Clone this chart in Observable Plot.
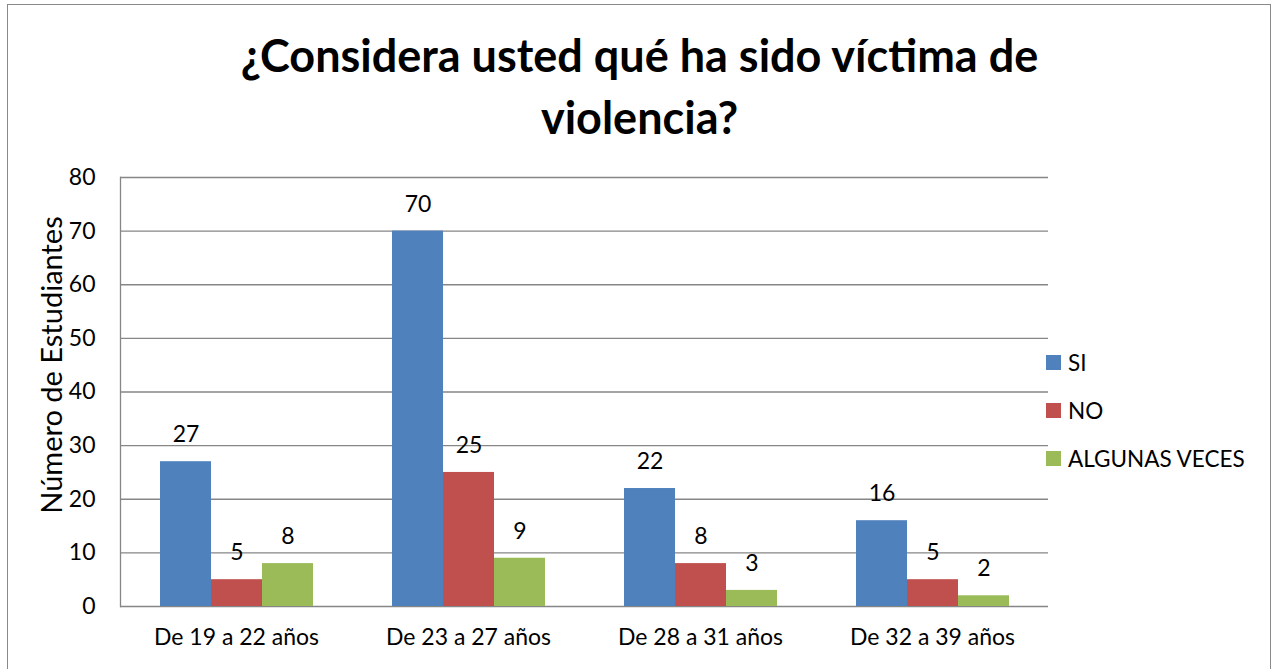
<!DOCTYPE html>
<html>
<head>
<meta charset="utf-8">
<script src="https://cdn.jsdelivr.net/npm/d3@7"></script>
<script src="https://cdn.jsdelivr.net/npm/@observablehq/plot@0.6"></script>
<style>
  html, body { margin: 0; padding: 0; width: 1273px; height: 669px; overflow: hidden; background: #fff; font-family: Lato, "Open Sans", sans-serif; }
  #frame { position: absolute; left: 7px; top: 4px; width: 1264px; height: 700px; border: 1.5px solid #898989; box-sizing: border-box; }
  #title { position: absolute; left: 7px; width: 1265px; top: 24px; text-align: center; font-weight: bold; font-size: 45px; line-height: 62px; color: #000; }
  #ylabel { position: absolute; left: 50px; top: 365px; transform: translate(-50%, -50%) rotate(-90deg); font-size: 29px; white-space: nowrap; color: #000; }
  #chart { position: absolute; left: 0; top: 150px; }
  #legend { position: absolute; left: 1046px; top: 349px; font-size: 22.5px; color: #000; }
  .item { position: absolute; left: 0; white-space: nowrap; display: flex; align-items: center; }
  .sw { width: 15px; height: 15px; margin-right: 7px; }
</style>
</head>
<body>
<div id="frame"></div>
<div id="title">¿Considera usted qué ha sido víctima de<br>violencia?</div>
<div id="ylabel">Número de Estudiantes</div>
<div id="chart"></div>
<div id="legend"></div>
<script>
const categories = ["De 19 a 22 años", "De 23 a 27 años", "De 28 a 31 años", "De 32 a 39 años"];
const seriesNames = ["SI", "NO", "ALGUNAS VECES"];
const siValues = [27, 70, 22, 16];
const noValues = [5, 25, 8, 5];
const algunasValues = [8, 9, 3, 2];
const yTicks = [0, 10, 20, 30, 40, 50, 60, 70, 80];
const colors = ["#4F81BD", "#C0504D", "#9BBB59"];

const seriesValues = [siValues, noValues, algunasValues];
const data = [];
categories.forEach((c, i) => {
  seriesNames.forEach((s, j) => {
    data.push({category: c, series: s, value: seriesValues[j][i]});
  });
});

const plot = Plot.plot({
  width: 1273,
  height: 519,
  marginLeft: 120,
  marginRight: 225,
  marginTop: 27,
  marginBottom: 63,
  style: {fontFamily: "Lato, 'Open Sans', sans-serif", fontSize: "23px", color: "#000"},
  fx: {domain: categories, padding: 0, label: null},
  x: {domain: seriesNames, paddingInner: 0, paddingOuter: 0.75, axis: null},
  y: {domain: [0, 80], label: null},
  color: {domain: seriesNames, range: colors},
  marks: [
    Plot.ruleY(yTicks, {stroke: "#868686", strokeWidth: 1.3, strokeOpacity: 1}),
    Plot.barY(data, {fx: "category", x: "series", y: "value", fill: "series"}),
    Plot.text(data, {fx: "category", x: "series", y: "value", text: d => String(d.value), dy: -27, fontSize: 23, fill: "#000"}),
    Plot.frame({anchor: "left", facetAnchor: "left", stroke: "#868686", strokeWidth: 1.3}),
    Plot.axisY(yTicks, {tickSize: 0, tickPadding: 25, fontSize: 23, label: null}),
    Plot.axisFx({anchor: "bottom", tickSize: 0, tickPadding: 22, fontSize: 23, label: null})
  ]
});
document.getElementById("chart").appendChild(plot);

const legend = document.getElementById("legend");
seriesNames.forEach((s, j) => {
  const item = document.createElement("div");
  item.className = "item";
  item.style.top = (j * 48) + "px";
  const sw = document.createElement("div");
  sw.className = "sw";
  sw.style.background = colors[j];
  const t = document.createElement("span");
  t.textContent = s;
  item.appendChild(sw);
  item.appendChild(t);
  legend.appendChild(item);
});
</script>
</body>
</html>
